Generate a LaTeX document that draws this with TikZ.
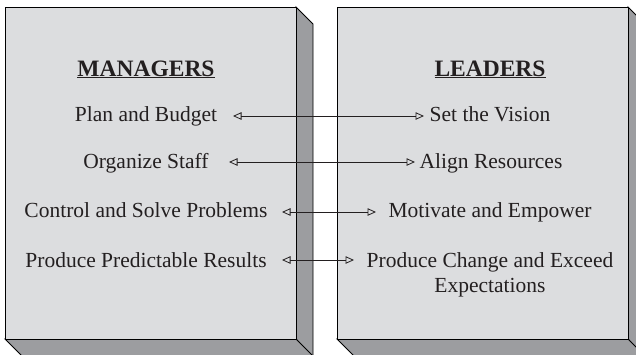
\documentclass[tikz,border=0pt]{standalone}
\usepackage{fontspec}
\setmainfont{Liberation Serif}
\usetikzlibrary{arrows.meta}
\definecolor{frontgray}{HTML}{DCDDDF}
\definecolor{sidegray}{HTML}{9C9DA0}
\definecolor{ink}{HTML}{231F20}
\tikzset{
  face/.style={fill=frontgray, draw=black, line width=0.9pt, line join=miter},
  side/.style={fill=sidegray, draw=black, line width=0.9pt, line join=miter},
  item/.style={anchor=base, inner sep=0pt, text=ink, font=\fontsize{21.5}{25}\selectfont},
  head/.style={anchor=base, inner sep=0pt, text=ink, font=\fontsize{23.5}{27}\selectfont\bfseries},
  link/.style={draw=ink, line width=0.8pt, {Triangle[open, length=8.5pt, width=7.5pt]}-{Triangle[open, length=8.5pt, width=7.5pt]}}
}
\begin{document}
\begin{tikzpicture}[x=1pt, y=-1pt]
\useasboundingbox (0,0) rectangle (636,354);
\clip (0,0) rectangle (636,354);
% left box
\draw[side] (296,7) -- (313,24) -- (313,358) -- (296,339) -- cycle;
\draw[side] (5,339) -- (296,339) -- (313,356) -- (22,356) -- cycle;
\draw[face] (5,7) rectangle (296,339);
% right box
\draw[side] (628,7) -- (645,24) -- (645,358) -- (628,339) -- cycle;
\draw[side] (337,339) -- (628,339) -- (645,356) -- (354,356) -- cycle;
\draw[face] (337,7) rectangle (628,339);
% headings
\node[head] (mgr) at (146,76) {\underline{MANAGERS}};
\node[head] (ldr) at (490,76) {\underline{LEADERS}};
% left items
\node[item] (m1) at (146,121) {Plan and Budget};
\node[item] (m2) at (146,168) {Organize Staff};
\node[item] (m3) at (146,217) {Control and Solve Problems};
\node[item] (m4) at (146,267) {Produce Predictable Results};
% right items
\node[item] (l1) at (490,121) {Set the Vision};
\node[item] (l2) at (491,168) {Align Resources};
\node[item] (l3) at (490,217) {Motivate and Empower};
\node[item, align=center] (l4) at (490,292) {Produce Change and Exceed\\Expectations};
% arrow ends
\coordinate (a1l) at (233,116); \coordinate (a1r) at (424,116);
\coordinate (a2l) at (229,162); \coordinate (a2r) at (415,162);
\coordinate (a3l) at (282,212); \coordinate (a3r) at (376,212);
\coordinate (a4l) at (282,260); \coordinate (a4r) at (354,260);
\draw[link] (a1l) -- (a1r);
\draw[link] (a2l) -- (a2r);
\draw[link] (a3l) -- (a3r);
\draw[link] (a4l) -- (a4r);
\end{tikzpicture}
\end{document}
